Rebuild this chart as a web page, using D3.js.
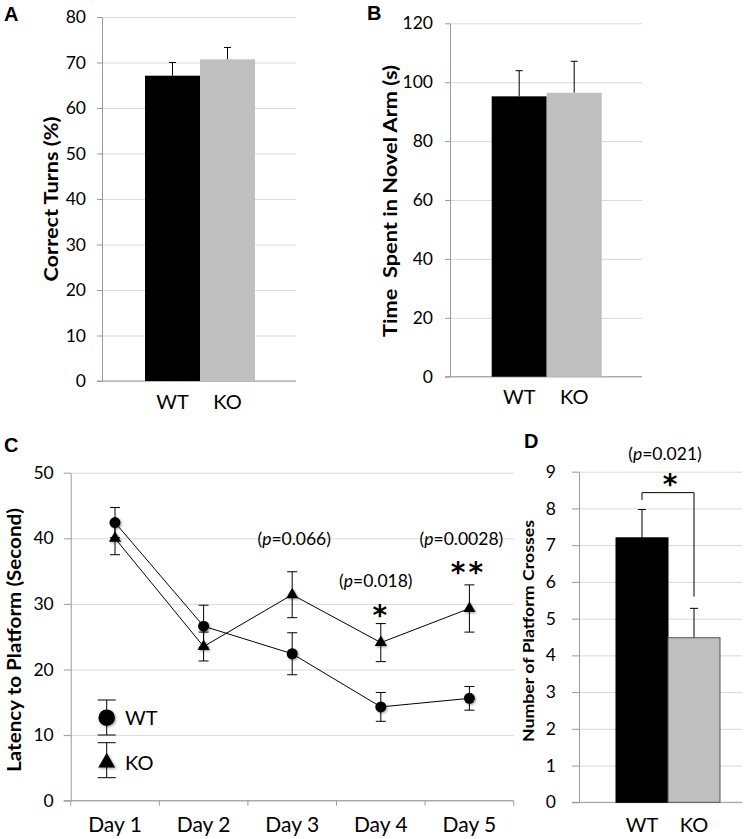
<!DOCTYPE html>
<html><head><meta charset="utf-8">
<script src="https://cdn.jsdelivr.net/npm/d3@7"></script>
<style>
body{margin:0;background:#fff}
svg{display:block}
</style></head><body>
<svg id="c" width="748" height="839"></svg>
<script>
// ---- data ----
const groups = ["WT", "KO"];
const correctTurns = [67.1, 70.7];
const correctTurnsErr = [2.9, 2.6];
const timeNovelArm = [95.2, 96.4];
const timeNovelArmErr = [8.7, 10.7];
const days = ["Day 1", "Day 2", "Day 3", "Day 4", "Day 5"];
const latencyWT = [42.4, 26.6, 22.4, 14.3, 15.6];
const latencyWTErr = [2.3, 3.2, 3.2, 2.2, 1.8];
const latencyKO = [40.0, 23.5, 31.4, 24.1, 29.3];
const latencyKOErr = [2.5, 2.2, 3.5, 2.9, 3.6];
const platformCrosses = [7.2, 4.48];
const platformCrossesErr = [0.77, 0.8];
const ticksA = [0, 10, 20, 30, 40, 50, 60, 70, 80];
const ticksB = [0, 20, 40, 60, 80, 100, 120];
const ticksC = [0, 10, 20, 30, 40, 50];
const ticksD = [0, 1, 2, 3, 4, 5, 6, 7, 8, 9];
const pValuesC = ["0.066", "0.018", "0.0028"];
const pValueD = "0.021";

const FONT = "Lato, 'Open Sans', sans-serif";
const STARFONT = "'DejaVu Sans', sans-serif";
const AXIS = "#9a9a9a", GRID = "#d9d9d9";
const COLORS = {WT: "#000000", KO: "#bfbfbf"};
const svg = d3.select("#c");

const defs = svg.append("defs");
const f = defs.append("filter").attr("id", "sh").attr("x", "-50%").attr("y", "-50%").attr("width", "200%").attr("height", "200%");
f.append("feDropShadow").attr("dx", 1.2).attr("dy", 1.2).attr("stdDeviation", 1.2).attr("flood-color", "#000").attr("flood-opacity", 0.35);

function yAxis(g, y, ticks, x0, x1, tickLen, pad, fs) {
  g.append("g").attr("transform", `translate(${x0},0)`)
    .call(d3.axisLeft(y).tickValues(ticks).tickSize(-(x1 - x0)).tickFormat("").tickSizeOuter(0))
    .call(a => a.select(".domain").remove())
    .call(a => a.selectAll("line").attr("stroke", GRID));
  g.append("g").attr("transform", `translate(${x0},0)`)
    .call(d3.axisLeft(y).tickValues(ticks).tickSize(tickLen).tickPadding(pad).tickSizeOuter(0))
    .attr("font-family", FONT).attr("font-size", fs)
    .call(a => a.select(".domain").attr("stroke", AXIS))
    .call(a => a.selectAll("line").attr("stroke", AXIS))
    .call(a => a.selectAll("text").attr("fill", "#000"));
  g.append("line").attr("x1", x0 - tickLen).attr("x2", x1)
    .attr("y1", y(0)).attr("y2", y(0)).attr("stroke", AXIS);
}

function title(g, txt, cx, cy, fs, len) {
  g.append("text").attr("transform", `translate(${cx},${cy}) rotate(-90)`)
    .attr("text-anchor", "middle").attr("dy", "0.36em")
    .attr("font-family", FONT).attr("font-weight", "bold").attr("font-size", fs)
    .attr("textLength", len).attr("lengthAdjust", "spacingAndGlyphs")
    .style("white-space", "pre").text(txt);
}

function letter(txt, x, y) {
  svg.append("text").attr("x", x).attr("y", y).attr("font-family", "'Liberation Sans', Arial, sans-serif")
    .attr("font-weight", "bold").attr("font-size", 20).text(txt);
}

function barPanel(o) {
  const g = svg.append("g");
  const y = d3.scaleLinear().domain([0, o.max]).range([o.y0, o.yTop]);
  const x = d3.scaleBand().domain(groups).range([o.bx0, o.bx1]);
  yAxis(g, y, o.ticks, o.ax, o.ax1, o.tickLen, o.pad, o.fs);
  const cx = d => x(d) + x.bandwidth() / 2;
  g.selectAll(".eb").data(groups).join("path")
    .attr("d", (d, i) => {
      const yt = y(o.values[i] + o.errs[i]), yb = y(o.values[i]);
      return `M${cx(d)},${yb}V${yt}M${cx(d) - o.cap},${yt}H${cx(d) + o.cap}`;
    })
    .attr("stroke", "#000").attr("stroke-width", 1).attr("fill", "none");
  g.selectAll(".bar").data(groups).join("rect")
    .attr("x", d => x(d)).attr("width", x.bandwidth())
    .attr("y", (d, i) => y(o.values[i])).attr("height", (d, i) => y(0) - y(o.values[i]))
    .attr("fill", d => COLORS[d])
    .attr("stroke", d => o.outline ? (d === "WT" ? "#000" : "#555") : "none")
    .attr("stroke-width", 1);
  g.append("g").attr("transform", `translate(0,${o.y0})`)
    .call(d3.axisBottom(x).tickSize(0).tickPadding(o.xpad))
    .attr("font-family", FONT).attr("font-size", o.xfs)
    .call(a => a.select(".domain").remove())
    .call(a => a.selectAll("text").attr("fill", "#000"));
  title(g, o.title, o.tx, o.ty, o.tfs, o.tlen);
  return {g, x, y, cx};
}

// ---- Panel A ----
barPanel({max: 80, y0: 381, yTop: 17, bx0: 145, bx1: 255, ax: 102, ax1: 296, ticks: ticksA,
  tickLen: 5, pad: 11, fs: 17.5, values: correctTurns, errs: correctTurnsErr, cap: 3.5,
  xpad: 13.5, xfs: 20, title: "Correct Turns (%)", tx: 52, ty: 199, tfs: 18, tlen: 165});
letter("A", 4, 21);

// ---- Panel B ----
barPanel({max: 120, y0: 376.7, yTop: 23.3, bx0: 491.7, bx1: 601.7, ax: 450, ax1: 642, ticks: ticksB,
  tickLen: 5, pad: 12, fs: 17.5, values: timeNovelArm, errs: timeNovelArmErr, cap: 3.5,
  xpad: 13, xfs: 20, title: "Time  Spent in Novel Arm (s)", tx: 390, ty: 201, tfs: 19, tlen: 272});
letter("B", 367, 20);

// ---- Panel D ----
const D = barPanel({max: 9, y0: 802.3, yTop: 471.7, bx0: 616, bx1: 720, ax: 579, ax1: 742, ticks: ticksD,
  tickLen: 7, pad: 16, fs: 17.5, values: platformCrosses, errs: platformCrossesErr, cap: 4, outline: true,
  xpad: 15.5, xfs: 20, title: "Number of Platform Crosses", tx: 528, ty: 631, tfs: 16, tlen: 222});
letter("D", 524, 448);
{
  const {g, y, cx} = D;
  const xl = cx("WT"), xr = cx("KO");
  g.append("path").attr("d", `M${xl},${y(8.23)}V${y(8.43)}H${xr}V${y(5.6)}`)
    .attr("stroke", "#000").attr("fill", "none").attr("stroke-width", 1);
  g.append("text").attr("x", (xl + xr) / 2 + 2).attr("y", y(8.43) + 1)
    .attr("text-anchor", "middle").attr("font-family", STARFONT).attr("font-weight", "bold")
    .attr("font-size", 28).text("*");
  const t = g.append("text").attr("x", (xl + xr) / 2 - 3).attr("y", 460)
    .attr("text-anchor", "middle").attr("font-family", FONT).attr("font-size", 17.5);
  t.append("tspan").text("(");
  t.append("tspan").attr("font-style", "italic").text("p");
  t.append("tspan").text("=" + pValueD + ")");
}

// ---- Panel C ----
{
  const g = svg.append("g");
  const y = d3.scaleLinear().domain([0, 50]).range([800.7, 472.7]);
  const x = d3.scaleBand().domain(days).range([70.7, 513.7]);
  const cx = d => x(d) + x.bandwidth() / 2;
  yAxis(g, y, ticksC, 70.7, 513.7, 7, 10, 17.5);
  // category boundary ticks
  g.selectAll(".bt").data(days.concat(["end"])).join("line")
    .attr("x1", (d, i) => 70.7 + i * x.step()).attr("x2", (d, i) => 70.7 + i * x.step())
    .attr("y1", y(0)).attr("y2", y(0) + 5).attr("stroke", AXIS);
  g.append("g").attr("transform", `translate(0,${y(0)})`)
    .call(d3.axisBottom(x).tickSize(0).tickPadding(16))
    .attr("font-family", FONT).attr("font-size", 21)
    .call(a => a.select(".domain").remove())
    .call(a => a.selectAll("text").attr("fill", "#000"));
  title(g, "Latency to Platform (Second)", 15, 640, 18, 264);
  letter("C", 4, 452);

  const series = [
    {name: "WT", vals: latencyWT, errs: latencyWTErr, sym: "circle"},
    {name: "KO", vals: latencyKO, errs: latencyKOErr, sym: "tri"}
  ];
  const line = d3.line().x((v, i) => cx(days[i])).y(v => y(v));
  series.forEach(s => {
    g.append("path").attr("d", line(s.vals)).attr("fill", "none").attr("stroke", "#000").attr("stroke-width", 1);
  });
  series.forEach(s => {
    g.selectAll(null).data(s.vals).join("path")
      .attr("d", (v, i) => {
        const X = cx(days[i]), t = y(v + s.errs[i]), b = y(v - s.errs[i]);
        return `M${X},${b}V${t}M${X - 5},${t}H${X + 5}M${X - 5},${b}H${X + 5}`;
      })
      .attr("stroke", "#000").attr("stroke-width", 1).attr("fill", "none");
  });
  const circ = d3.symbol(d3.symbolCircle, Math.PI * 5.5 * 5.5);
  const tri = d3.symbol(d3.symbolTriangle, 64);
  series.forEach(s => {
    g.selectAll(null).data(s.vals).join("path")
      .attr("transform", (v, i) => `translate(${cx(days[i])},${y(v)})`)
      .attr("d", s.sym === "circle" ? circ : tri)
      .attr("fill", "#000").attr("filter", "url(#sh)");
  });

  // legend
  const legY = [717.7, 762.5];
  const legBar = [[700, 735], [742.7, 777.7]];
  series.forEach((s, k) => {
    const lx = 106.7;
    g.append("path").attr("d", `M${lx},${legBar[k][0]}V${legBar[k][1]}M${lx - 9},${legBar[k][0]}H${lx + 9}M${lx - 9},${legBar[k][1]}H${lx + 9}`)
      .attr("stroke", "#000").attr("fill", "none");
    g.append("path").attr("transform", `translate(${lx},${legY[k]})`)
      .attr("d", s.sym === "circle" ? d3.symbol(d3.symbolCircle, Math.PI * 8.3 * 8.3)() : d3.symbol(d3.symbolTriangle, 125)())
      .attr("fill", "#000").attr("filter", "url(#sh)");
    g.append("text").attr("x", 125).attr("y", legY[k] + 7).attr("font-family", FONT).attr("font-size", 20).text(s.name);
  });

  // p-value annotations
  const ann = [
    {day: "Day 3", p: pValuesC[0], v: 39.0, dx: 2},
    {day: "Day 4", p: pValuesC[1], v: 32.6, dx: -5},
    {day: "Day 5", p: pValuesC[2], v: 39.0, dx: -8}
  ];
  ann.forEach(a => {
    const t = g.append("text").attr("x", cx(a.day) + a.dx).attr("y", y(a.v))
      .attr("text-anchor", "middle").attr("font-family", FONT).attr("font-size", 17.5);
    t.append("tspan").text("(");
    t.append("tspan").attr("font-style", "italic").text("p");
    t.append("tspan").text("=" + a.p + ")");
  });
  const stars = [{day: "Day 4", s: "*", v: 28.9}, {day: "Day 5", s: "**", v: 35.4}];
  stars.forEach(a => {
    g.append("text").attr("x", cx(a.day) - 1).attr("y", y(a.v) + 14)
      .attr("text-anchor", "middle").attr("font-family", STARFONT).attr("font-weight", "bold")
      .attr("font-size", 28).attr("letter-spacing", a.s.length > 1 ? 3 : 0).text(a.s);
  });
}
</script>
</body></html>
